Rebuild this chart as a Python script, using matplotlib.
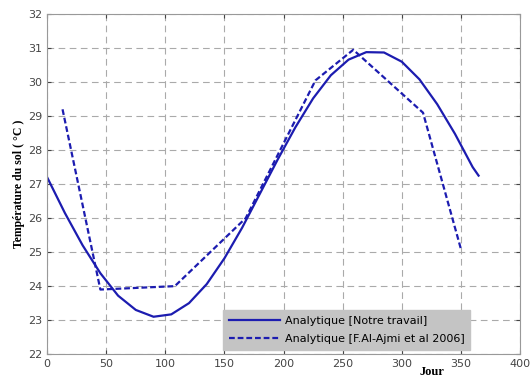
# Température du sol – comparaison analytique
import numpy as np
import matplotlib.pyplot as plt

# ------------------------------
# DATA
# ------------------------------
jours_notre = [0, 15, 30, 45, 60, 75, 90, 105, 120, 135, 150, 165, 180,
               195, 210, 225, 240, 255, 270, 285, 300, 315, 330, 345, 360, 365]
temp_notre = [27.2, 26.15, 25.2, 24.38, 23.72, 23.3, 23.1, 23.17, 23.5, 24.06,
              24.82, 25.72, 26.72, 27.72, 28.67, 29.52, 30.2, 30.66, 30.88,
              30.87, 30.6, 30.08, 29.35, 28.48, 27.5, 27.25]

jours_ajmi = [13, 45, 108, 168, 227, 259, 318, 350]
temp_ajmi = [29.2, 23.9, 24.0, 26.0, 30.05, 30.95, 29.1, 25.1]

x_ticks = [0, 50, 100, 150, 200, 250, 300, 350, 400]
y_ticks = [22, 23, 24, 25, 26, 27, 28, 29, 30, 31, 32]

# ------------------------------
# PLOT
# ------------------------------
fig = plt.figure(figsize=(5.3, 3.8), dpi=100)
ax = fig.add_axes([0.089, 0.068, 0.892, 0.895])

blue = "#1c1cb0"
ax.plot(jours_notre, temp_notre, color=blue, lw=1.6,
        label="Analytique [Notre travail]")
ax.plot(jours_ajmi, temp_ajmi, color=blue, lw=1.6, linestyle=(0, (2.6, 1.3)),
        label="Analytique [F.Al-Ajmi et al 2006]")

ax.set_xlim(0, 400)
ax.set_ylim(22, 32)
ax.set_xticks(x_ticks)
ax.set_yticks(y_ticks)
ax.tick_params(direction="in", length=3, labelsize=8, colors="#444444",
               top=True, right=True)
for s in ax.spines.values():
    s.set_color("#999999")

ax.grid(True, color="#aaaaaa", linestyle=(0, (6, 4)), linewidth=0.8)

ax.set_ylabel("Température du sol ( °C )", family="Liberation Serif",
              fontweight="bold", fontsize=8.5, labelpad=2)
fig.text(0.815, 0.02, "Jour", family="Liberation Serif", fontweight="bold",
         fontsize=9, ha="center", va="center")

leg = ax.legend(loc="lower left", bbox_to_anchor=(0.36, -0.004), fontsize=8,
                frameon=True, fancybox=False, handlelength=4.6,
                borderpad=0.55, labelspacing=0.7, handletextpad=0.4)
leg.get_frame().set_facecolor("#c4c4c4")
leg.get_frame().set_edgecolor("#c4c4c4")
leg.get_frame().set_alpha(1)

fig.savefig("out.png", dpi=100)
